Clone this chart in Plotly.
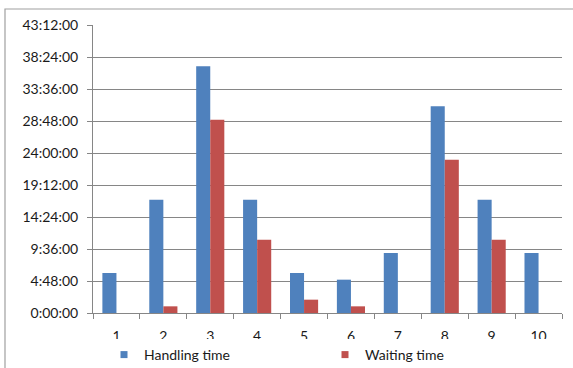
import plotly.graph_objects as go

categories = ["1", "2", "3", "4", "5", "6", "7", "8", "9", "10"]
handling_hours = [6, 17, 37, 17, 6, 5, 9, 31, 17, 9]
waiting_hours = [0, 1, 29, 11, 2, 1, 0, 23, 11, 0]
tick_vals = [0, 4.8, 9.6, 14.4, 19.2, 24.0, 28.8, 33.6, 38.4, 43.2]
tick_text = ["0:00:00", "4:48:00", "9:36:00", "14:24:00", "19:12:00",
             "24:00:00", "28:48:00", "33:36:00", "38:24:00", "43:12:00"]

W, H = 573, 368
ml, mr, mt, mb = 93, 11, 25, 55
pw = W - ml - mr
ph = H - mt - mb

def px_x(x):
    return (x - ml) / pw

def px_y(y):
    return (H - mb - y) / ph

BLUE = "#4F81BD"
RED = "#C0504D"

fig = go.Figure()
fig.add_trace(go.Bar(x=categories, y=handling_hours, name="Handling time", showlegend=False,
                     marker=dict(color=BLUE, line=dict(width=0))))
fig.add_trace(go.Bar(x=categories, y=waiting_hours, name="Waiting time", showlegend=False,
                     marker=dict(color=RED, line=dict(width=0))))
# legend entries with small square keys
fig.add_trace(go.Scatter(x=[None], y=[None], mode="markers", name="Handling time",
                         marker=dict(symbol="square", size=7, color=BLUE)))
fig.add_trace(go.Scatter(x=[None], y=[None], mode="markers", name="Waiting time",
                         marker=dict(symbol="square", size=7, color=RED)))

font_family = "Lato, 'Open Sans', sans-serif"

fig.update_layout(
    width=W, height=H,
    margin=dict(l=ml, r=mr, t=mt, b=mb, autoexpand=False),
    paper_bgcolor="white", plot_bgcolor="white",
    barmode="group", bargap=0.4, bargroupgap=0,
    font=dict(family=font_family, size=14, color="#1a1a1a"),
    legend=dict(orientation="h", x=px_x(104), xanchor="left",
                y=px_y(355), yanchor="middle", font=dict(size=14),
                entrywidth=176, itemwidth=30, traceorder="normal"),
    xaxis=dict(type="category", showgrid=False, showline=True, linecolor="#868686",
               linewidth=1, ticks="outside", tickson="boundaries", ticklen=5,
               tickcolor="#868686", tickfont=dict(size=14), ticklabelstandoff=10,
               automargin=False, fixedrange=True),
    yaxis=dict(range=[0, 43.2], tickvals=tick_vals, ticktext=tick_text,
               showgrid=True, gridcolor="#868686", gridwidth=1,
               showline=True, linecolor="#868686", linewidth=1,
               ticks="outside", ticklen=5, tickcolor="#868686",
               tickfont=dict(size=14), ticklabelstandoff=6, automargin=False,
               zeroline=False, fixedrange=True),
    shapes=[dict(type="rect", xref="paper", yref="paper",
                 x0=px_x(5), x1=px_x(580), y0=px_y(375), y1=px_y(9),
                 line=dict(color="#A0A0A0", width=1.2), fillcolor="rgba(0,0,0,0)",
                 layer="below")],
)

fig.write_html("out.html", config={"displayModeBar": False},
               post_script="document.body.style.margin='0';")
